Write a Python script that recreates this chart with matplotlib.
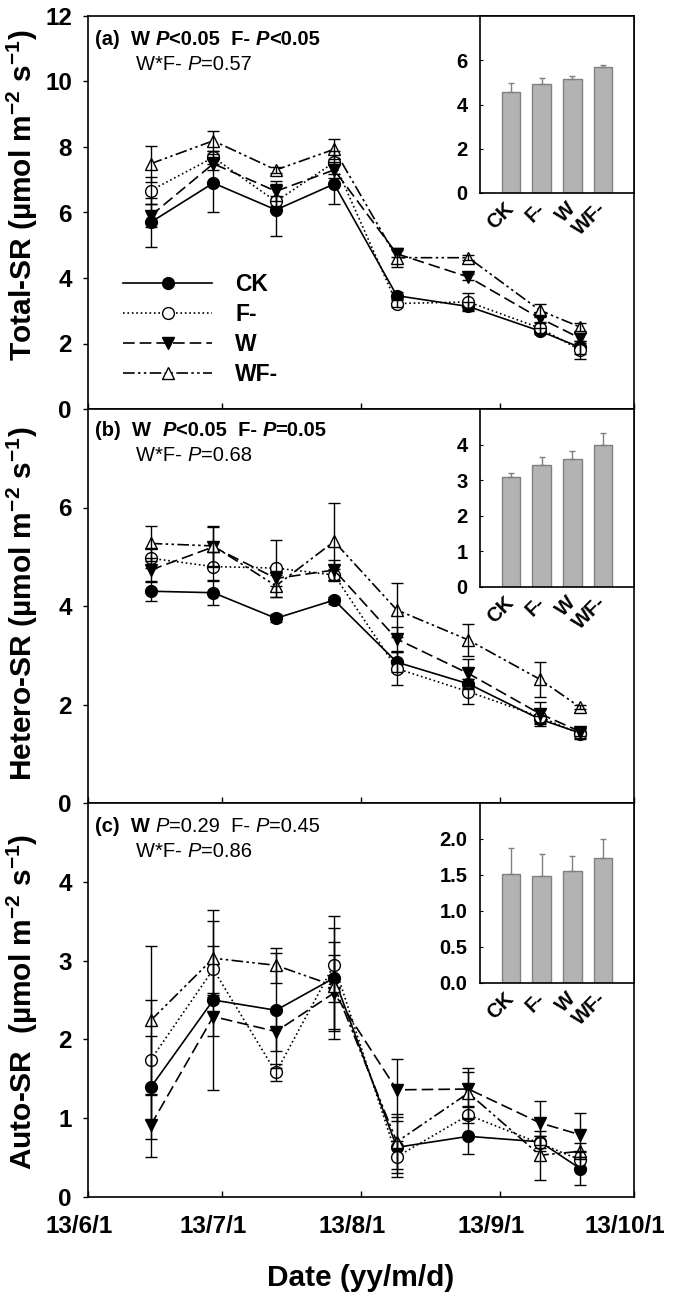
import numpy as np
import matplotlib
matplotlib.use('Agg')
import matplotlib.pyplot as plt
from matplotlib.ticker import FuncFormatter, FormatStrFormatter
from matplotlib.transforms import ScaledTranslation
import matplotlib.dates as mdates

plt.rcParams['font.family'] = ['Liberation Sans', 'DejaVu Sans']
plt.rcParams['font.weight'] = 'bold'
plt.rcParams['axes.labelweight'] = 'bold'
plt.rcParams['mathtext.default'] = 'regular'

# sampling dates and month ticks
dates = np.array(['2013-06-15', '2013-06-29', '2013-07-13', '2013-07-26',
                  '2013-08-09', '2013-08-25', '2013-09-10', '2013-09-19'], dtype='datetime64[D]')
months = np.array(['2013-06-01', '2013-07-01', '2013-08-01', '2013-09-01', '2013-10-01'],
                  dtype='datetime64[D]')
treatments = ['CK', 'F-', 'W', 'WF-']

# (a) Total-SR
total_ck = [5.70, 6.90, 6.08, 6.87, 3.46, 3.13, 2.38, 1.88]
total_f = [6.67, 7.68, 6.34, 7.53, 3.22, 3.27, 2.47, 1.80]
total_w = [5.90, 7.49, 6.65, 7.30, 4.74, 4.03, 2.77, 2.16]
total_wf = [7.49, 8.19, 7.30, 7.93, 4.62, 4.62, 3.01, 2.50]
total_ck_err = [0.75, 0.90, 0.80, 0.60, 0.10, 0.15, 0.10, 0.20]
total_f_err = [0.42, 0.20, 0.15, 0.35, 0.10, 0.26, 0.15, 0.28]
total_w_err = [0.35, 0.20, 0.30, 0.25, 0.10, 0.10, 0.10, 0.15]
total_wf_err = [0.55, 0.30, 0.10, 0.30, 0.29, 0.08, 0.21, 0.13]

# (b) Hetero-SR
hetero_ck = [4.30, 4.27, 3.75, 4.12, 2.86, 2.42, 1.70, 1.42]
hetero_f = [4.97, 4.80, 4.77, 4.63, 2.73, 2.26, 1.75, 1.40]
hetero_w = [4.73, 5.20, 4.56, 4.73, 3.33, 2.63, 1.81, 1.45]
hetero_wf = [5.27, 5.22, 4.41, 5.31, 3.92, 3.31, 2.51, 1.94]
hetero_ck_err = [0.20, 0.25, 0.08, 0.07, 0.20, 0.10, 0.07, 0.10]
hetero_f_err = [0.20, 0.30, 0.58, 0.12, 0.33, 0.25, 0.15, 0.10]
hetero_w_err = [0.25, 0.40, 0.15, 0.20, 0.25, 0.30, 0.25, 0.08]
hetero_wf_err = [0.35, 0.40, 0.22, 0.78, 0.55, 0.32, 0.36, 0.04]

# (c) Auto-SR
auto_ck = [1.39, 2.50, 2.37, 2.78, 0.63, 0.77, 0.70, 0.36]
auto_f = [1.74, 2.89, 1.58, 2.95, 0.51, 1.04, 0.68, 0.47]
auto_w = [0.91, 2.29, 2.10, 2.59, 1.36, 1.37, 0.94, 0.79]
auto_wf = [2.24, 3.03, 2.94, 2.68, 0.70, 1.32, 0.53, 0.58]
auto_ck_err = [0.65, 1.14, 0.73, 0.78, 0.38, 0.22, 0.08, 0.21]
auto_f_err = [0.76, 0.30, 0.11, 0.47, 0.20, 0.10, 0.10, 0.12]
auto_w_err = [0.40, 0.25, 0.25, 0.48, 0.39, 0.22, 0.28, 0.28]
auto_wf_err = [0.95, 0.47, 0.22, 0.55, 0.35, 0.32, 0.31, 0.10]

# inset means (whole season)
inset_total = [4.58, 4.91, 5.13, 5.70]
inset_total_err = [0.39, 0.29, 0.14, 0.10]
inset_hetero = [3.08, 3.44, 3.59, 3.99]
inset_hetero_err = [0.13, 0.20, 0.23, 0.33]
inset_auto = [1.51, 1.48, 1.55, 1.74]
inset_auto_err = [0.37, 0.31, 0.22, 0.26]

ylabels = ['Total-SR (µmol m$^{-2}$ s$^{-1}$)',
           'Hetero-SR (µmol m$^{-2}$ s$^{-1}$)',
           'Auto-SR  (µmol m$^{-2}$ s$^{-1}$)']

# rich text lines: (text, weight, style)
stats_lines = [
    [[('(a)  W ', 'bold', 'normal'), ('P', 'bold', 'italic'), ('<0.05  F- ', 'bold', 'normal'),
      ('P', 'bold', 'italic'), ('<0.05', 'bold', 'normal')],
     [('W*F- ', 'normal', 'normal'), ('P', 'normal', 'italic'), ('=0.57', 'normal', 'normal')]],
    [[('(b)  W  ', 'bold', 'normal'), ('P', 'bold', 'italic'), ('<0.05  F- ', 'bold', 'normal'),
      ('P', 'bold', 'italic'), ('=0.05', 'bold', 'normal')],
     [('W*F- ', 'normal', 'normal'), ('P', 'normal', 'italic'), ('=0.68', 'normal', 'normal')]],
    [[('(c)  W ', 'bold', 'normal'), ('P', 'normal', 'italic'), ('=0.29  F- ', 'normal', 'normal'),
      ('P', 'normal', 'italic'), ('=0.45', 'normal', 'normal')],
     [('W*F- ', 'normal', 'normal'), ('P', 'normal', 'italic'), ('=0.86', 'normal', 'normal')]],
]

styles = {
    'CK': dict(ls='-', marker='o', mfc='black'),
    'F-': dict(ls=':', marker='o', mfc='white'),
    'W': dict(ls=(0, (7, 3)), marker='v', mfc='black'),
    'WF-': dict(ls=(0, (7, 2, 1.5, 2, 1.5, 2)), marker='^', mfc='white'),
}

W, H = 675, 1299
fig = plt.figure(figsize=(W / 100, H / 100), dpi=100)


def px_axes(l, t, r, b):
    return fig.add_axes([l / W, 1 - b / H, (r - l) / W, (b - t) / H])


def rich(ax, x, y, parts, size=14.5):
    # first piece at pixel (x, baseline y), rest chained to its right
    prev = None
    for s, wt, st in parts:
        if prev is None:
            prev = ax.annotate(s, xy=(x / W, 1 - y / H), xycoords='figure fraction',
                               va='baseline', ha='left', fontsize=size, fontweight=wt,
                               fontstyle=st, annotation_clip=False, zorder=6)
        else:
            prev = ax.annotate(s, xy=(1, 0), xycoords=prev, va='bottom', ha='left',
                               fontsize=size, fontweight=wt, fontstyle=st,
                               annotation_clip=False, zorder=6)


panels = [
    dict(box=(88, 16, 634, 409), inset=(480, 16, 634, 193),
         series=[(total_ck, total_ck_err), (total_f, total_f_err), (total_w, total_w_err), (total_wf, total_wf_err)],
         ylim=12, yticks=[0, 2, 4, 6, 8, 10, 12], ly=0.545,
         bars=(inset_total, inset_total_err), iylim=8, iyticks=[0, 2, 4, 6], ifmt='%d', text_y=45),
    dict(box=(88, 409, 634, 803), inset=(480, 409, 634, 587),
         series=[(hetero_ck, hetero_ck_err), (hetero_f, hetero_f_err), (hetero_w, hetero_w_err), (hetero_wf, hetero_wf_err)],
         ylim=8, yticks=[0, 2, 4, 6], ly=0.505,
         bars=(inset_hetero, inset_hetero_err), iylim=5, iyticks=[0, 1, 2, 3, 4], ifmt='%d', text_y=436),
    dict(box=(88, 803, 634, 1197), inset=(480, 803, 634, 983),
         series=[(auto_ck, auto_ck_err), (auto_f, auto_f_err), (auto_w, auto_w_err), (auto_wf, auto_wf_err)],
         ylim=5, yticks=[0, 1, 2, 3, 4], ly=0.495,
         bars=(inset_auto, inset_auto_err), iylim=2.5, iyticks=[0, 0.5, 1.0, 1.5, 2.0], ifmt='%.1f', text_y=832),
]

for i, p in enumerate(panels):
    ax = px_axes(*p['box'])
    for name, (vals, err) in zip(treatments, p['series']):
        ax.plot(dates, vals, color='black', lw=1.2, ms=8.5, mec='black', mew=1,
                label=name, zorder=3, **styles[name])
        ax.errorbar(dates, vals, yerr=err, fmt='none', ecolor='black', elinewidth=1,
                    capsize=4.5, capthick=1, zorder=4)
    ax.set_xlim(months[0], months[-1])
    ax.set_xticks(months)
    ax.xaxis.set_major_formatter(FuncFormatter(
        lambda v, pos: '{}/{}/{}'.format(mdates.num2date(v).year % 100,
                                         mdates.num2date(v).month, mdates.num2date(v).day)))
    ax.set_ylim(0, p['ylim'])
    ax.set_yticks(p['yticks'])
    ax.tick_params(axis='y', direction='out', length=3.6, width=1, pad=8, labelsize=17.5)
    ax.tick_params(axis='x', direction='in', length=4.5, width=1, pad=13, labelsize=17.5)
    for s in ax.spines.values():
        s.set_linewidth(1.2)
    ax.set_ylabel(ylabels[i], fontsize=21.5)
    ax.yaxis.set_label_coords(-0.088, p['ly'])
    if i < 2:
        ax.tick_params(axis='x', labelbottom=False)
    else:
        shift = ScaledTranslation(-9 / 100, 0, fig.dpi_scale_trans)
        for lbl in ax.get_xticklabels():
            lbl.set_transform(lbl.get_transform() + shift)
        ax.set_xlabel('Date (yy/m/d)', fontsize=21.5)
        ax.xaxis.set_label_coords(0.5, -0.17)
    if i == 0:
        ax.legend(loc='upper left', bbox_to_anchor=(0.064, 0.346), frameon=False,
                  prop={'weight': 'bold', 'size': 16.5}, handlelength=3.9,
                  handletextpad=1.0, labelspacing=0.3, borderpad=0, borderaxespad=0,
                  numpoints=1)

    line1, line2 = stats_lines[i]
    rich(ax, 95, p['text_y'], line1)
    rich(ax, 136, p['text_y'] + 25, line2)

    # inset bar chart of seasonal means
    ia = px_axes(*p['inset'])
    ia.set_zorder(5)
    bvals, berr = p['bars']
    xpos = np.arange(len(treatments))
    ia.bar(xpos, bvals, width=0.6, color='#b3b3b3', edgecolor='#808080', lw=1, zorder=2)
    ia.errorbar(xpos, bvals, yerr=[np.zeros(len(berr)), berr], fmt='none', ecolor='#808080',
                elinewidth=1, capsize=2, capthick=1, zorder=3)
    ia.set_xlim(-1, 4)
    ia.set_ylim(0, p['iylim'])
    ia.set_yticks(p['iyticks'])
    ia.yaxis.set_major_formatter(FormatStrFormatter(p['ifmt']))
    ia.set_xticks(xpos)
    ia.set_xticklabels(treatments, rotation=45, ha='right', va='center',
                       rotation_mode='anchor', fontsize=14.5)
    ia.tick_params(axis='x', length=0, pad=9)
    ia.tick_params(axis='y', direction='in', length=2, width=0.8, pad=9, labelsize=14.5)
    for s in ia.spines.values():
        s.set_linewidth(1.2)

fig.savefig('out.png', dpi=100)
